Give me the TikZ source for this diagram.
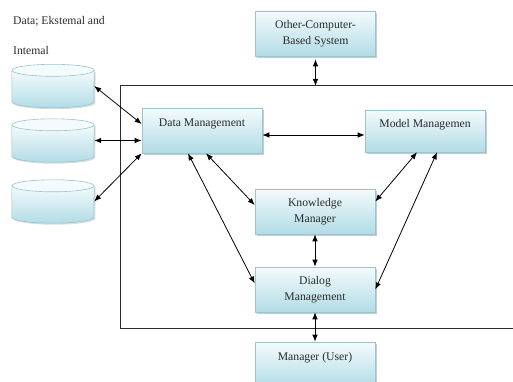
\documentclass[tikz,border=0pt]{standalone}
\usepackage{fontspec}
\setmainfont{Liberation Serif}
\usetikzlibrary{arrows.meta,shadows,calc}
\definecolor{boxtop}{HTML}{F4FBFC}
\definecolor{boxbot}{HTML}{B2DCE6}
\definecolor{boxline}{HTML}{9DC3CE}
\definecolor{ink}{HTML}{2B2B2B}
\begin{document}
\begin{tikzpicture}[x=1pt,y=-1pt,
  font=\fontsize{11.7}{15.5}\selectfont,
  mbox/.style={draw=boxline,line width=0.6pt,top color=boxtop,bottom color=boxbot,
    minimum width=120pt,minimum height=45pt,align=center,inner sep=0pt,
    text=ink,
    drop shadow={shadow xshift=1.6pt,shadow yshift=-1.6pt,fill=black!45,opacity=0.45}},
  cylarea/.style={minimum width=82pt,minimum height=43pt,inner sep=0pt},
  link/.style={draw=black,line width=0.8pt,{Latex[length=7pt,width=5.5pt]}-{Latex[length=7pt,width=5.5pt]}}
]
\useasboundingbox (0,0) rectangle (513,382);

% title of the data stores
\node[anchor=base west,inner sep=0pt,text=ink] (t1) at (13,25) {Data; Ekstemal and};
\node[anchor=base west,inner sep=0pt,text=ink] (t2) at (13,55) {Intemal};

% system frame (open on the right)
\draw[ink,line width=1pt] (520,86) -- (120,86) -- (120,328) -- (520,328);
\coordinate (ftop) at (315.5,86);

% data store cylinders
\foreach \n/\t/\b in {c1/65/107, c2/119/162, c3/180/223}{
  \node[cylarea] (\n) at (53,{(\t+\b)/2}) {};
  \fill[black!40,opacity=0.35]
    ($(\n.north west)+(1.5,7.5)$) -- ($(\n.south west)+(1.5,-4.5)$)
    arc[start angle=180,end angle=360,x radius=41pt,y radius=6pt]
    -- ($(\n.north east)+(1.5,7.5)$) -- cycle;
  \shade[top color=boxtop,bottom color=boxbot,draw=boxline,line width=0.6pt]
    ($(\n.north west)+(0,6)$) -- ($(\n.south west)+(0,-6)$)
    arc[start angle=180,end angle=360,x radius=41pt,y radius=6pt]
    -- ($(\n.north east)+(0,6)$);
  \draw[boxline,line width=0.6pt,fill=boxtop]
    ($(\n.north)+(0,6)$) ellipse[x radius=41pt,y radius=6pt];
}

% components
\node[mbox] (ocbs) at (315.5,33.5) {Other-Computer-\\Based System};
\node[mbox] (dm)   at (202,130.5) {Data Management\\\mbox{}};
\node[mbox,minimum height=42pt] (mm) at (425,131) {Model Managemen\\\mbox{}};
\node[mbox] (km)   at (315,211.5) {Knowledge\\Manager};
\node[mbox] (dlg)  at (315,289.5) {Dialog\\Management};
\node[mbox] (usr)  at (315,364.5) {Manager (User)\\\mbox{}};

% connections
\draw[link] (c1.east) -- ([yshift=6.5pt]dm.west);
\draw[link] (c2.east) -- (c2.east -| dm.west);
\draw[link] (c3.east) -- (dm.south west);
\draw[link] ([yshift=-4.5pt]dm.east) -- ([yshift=-4.5pt]dm.east -| mm.west);
\draw[link] ([xshift=4pt]dm.south) -- ([yshift=6.5pt]km.west);
\draw[link] ([xshift=-14pt]dm.south) -- ([yshift=6pt]dlg.west);
\draw[link] ([yshift=10pt]km.east) -- ([xshift=-8pt]mm.south);
\draw[link] (dlg.east) -- ([xshift=12pt]mm.south);
\draw[link] (km.south) -- (dlg.north);
\draw[link] (dlg.south) -- (usr.north);
\draw[link] ([yshift=-3pt]ocbs.south) -- (ftop);
\end{tikzpicture}
\end{document}
